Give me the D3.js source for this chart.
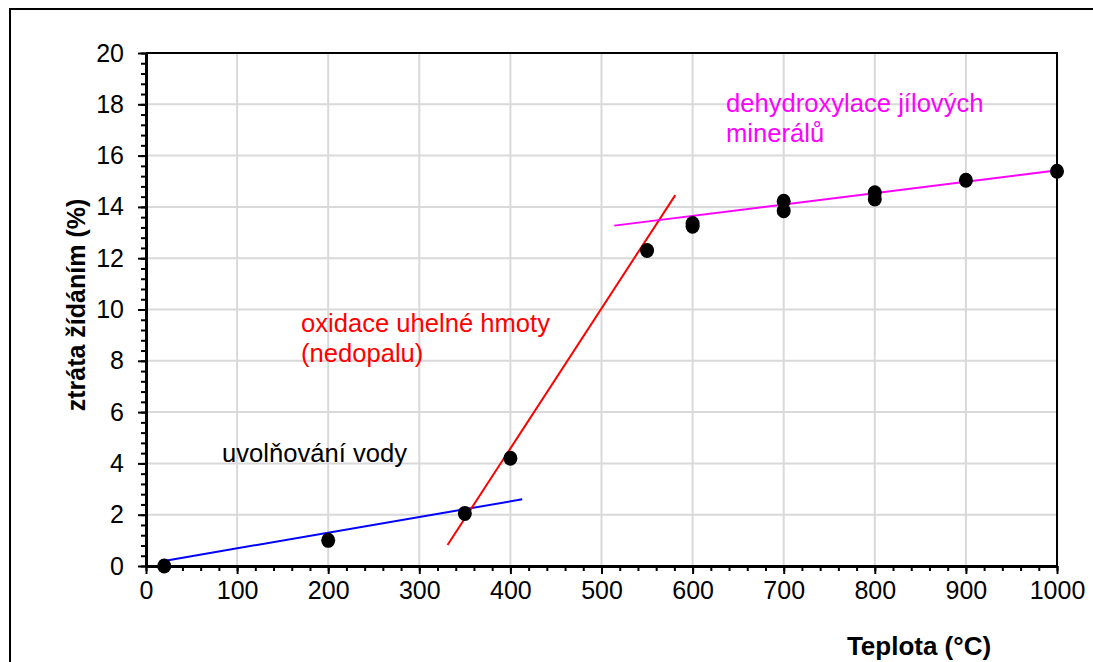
<!DOCTYPE html>
<html><head><meta charset="utf-8">
<script src="https://cdn.jsdelivr.net/npm/d3@7"></script>
<style>
html,body{margin:0;padding:0;background:#fff;}
svg{display:block;font-family:"Liberation Sans",Arial,sans-serif;}
</style></head>
<body><svg id="c" width="1093" height="662"></svg>
<script>
// data
const tempX = [20, 200, 350, 400, 550, 600, 600, 700, 700, 800, 800, 900, 1000];
const lossY = [0, 1.0, 2.05, 4.2, 12.3, 13.35, 13.25, 14.22, 13.85, 14.55, 14.31, 15.04, 15.39];
const waterLine = [[15, 0.17], [413, 2.6]];
const oxidLine = [[331, 0.82], [581, 14.46]];
const dehydLine = [[514, 13.27], [1005, 15.45]];
const xTicks = [0, 100, 200, 300, 400, 500, 600, 700, 800, 900, 1000];
const yTicks = [0, 2, 4, 6, 8, 10, 12, 14, 16, 18, 20];
const xLabel = "Teplota (°C)";
const yLabel = "ztráta žídáním (%)";

const svg = d3.select("#c");
const L = 146, R = 1057, T = 53, B = 566;
const x = d3.scaleLinear().domain([0, 1000]).range([L, R]);
const y = d3.scaleLinear().domain([0, 20]).range([B, T]);

// outer frame
svg.append("rect").attr("x", 10).attr("y", 9).attr("width", 1200).attr("height", 800)
  .attr("fill", "none").attr("stroke", "#000").attr("stroke-width", 2);

// grid
svg.append("g").selectAll("line").data(xTicks.slice(1)).join("line")
  .attr("x1", d => x(d)).attr("x2", d => x(d)).attr("y1", T).attr("y2", B)
  .attr("stroke", "#d9d9d9").attr("stroke-width", 2);
svg.append("g").selectAll("line").data(yTicks.slice(1)).join("line")
  .attr("y1", d => y(d)).attr("y2", d => y(d)).attr("x1", L).attr("x2", R)
  .attr("stroke", "#d9d9d9").attr("stroke-width", 2);

// plot border (top and right)
svg.append("path").attr("d", `M${L},${T}H${R}V${B}`).attr("fill", "none")
  .attr("stroke", "#000").attr("stroke-width", 2);

// minor ticks
const xMinor = d3.range(0, 1001, 20);
const yMinor = d3.range(0, 20.001, 0.4);
svg.append("g").attr("transform", `translate(0,${B})`)
  .call(d3.axisBottom(x).tickValues(xMinor).tickSize(5).tickFormat(""))
  .call(g => g.select(".domain").remove())
  .selectAll("line").attr("stroke-width", 2);
svg.append("g").attr("transform", `translate(${L},0)`)
  .call(d3.axisLeft(y).tickValues(yMinor).tickSize(5).tickFormat(""))
  .call(g => g.select(".domain").remove())
  .selectAll("line").attr("stroke-width", 2);

// major axes
const xa = svg.append("g").attr("transform", `translate(0,${B})`)
  .call(d3.axisBottom(x).tickValues(xTicks).tickFormat(d3.format("d")).tickSize(8).tickSizeOuter(0).tickPadding(7));
xa.select(".domain").attr("stroke-width", 3);
xa.selectAll("line").attr("stroke-width", 2);
xa.selectAll("text").attr("font-size", 25).attr("fill", "#000").attr("font-family", "Liberation Sans, Arial");
const ya = svg.append("g").attr("transform", `translate(${L},0)`)
  .call(d3.axisLeft(y).tickValues(yTicks).tickSize(8).tickSizeOuter(0).tickPadding(14));
ya.select(".domain").attr("stroke-width", 3);
ya.selectAll("line").attr("stroke-width", 2);
ya.selectAll("text").attr("font-size", 25).attr("fill", "#000").attr("font-family", "Liberation Sans, Arial");

// trend lines
const line = d3.line().x(d => x(d[0])).y(d => y(d[1]));
[[waterLine, "#0000ff"], [oxidLine, "#ff0000"], [dehydLine, "#ff00ff"]].forEach(([d, c]) => {
  svg.append("path").attr("d", line(d)).attr("stroke", c).attr("stroke-width", 2).attr("fill", "none");
});

// points
svg.append("g").selectAll("ellipse").data(tempX.map((t, i) => [t, lossY[i]])).join("ellipse")
  .attr("cx", d => x(d[0])).attr("cy", d => y(d[1])).attr("rx", 7).attr("ry", 7.5).attr("fill", "#000");

// annotations
function ann(lines, xv, yb, col) {
  const t = svg.append("text").attr("x", xv).attr("y", yb).attr("fill", col).attr("font-size", 25.6);
  lines.forEach((s, i) => t.append("tspan").attr("x", xv).attr("dy", i ? 30 : 0).text(s));
}
ann(["dehydroxylace jílových", "minerálů"], 726, 112, "#ff00ff");
ann(["oxidace uhelné hmoty", "(nedopalu)"], 301, 332, "#ff0000");
ann(["uvolňování vody"], 222, 462, "#000");

// axis titles
svg.append("text").attr("x", 919).attr("y", 655).attr("text-anchor", "middle")
  .attr("font-size", 26).attr("font-weight", "bold").text(xLabel);
svg.append("text").attr("transform", "translate(85,305) rotate(-90)").attr("text-anchor", "middle")
  .attr("font-size", 25).attr("font-weight", "bold").text(yLabel);
</script></body></html>
